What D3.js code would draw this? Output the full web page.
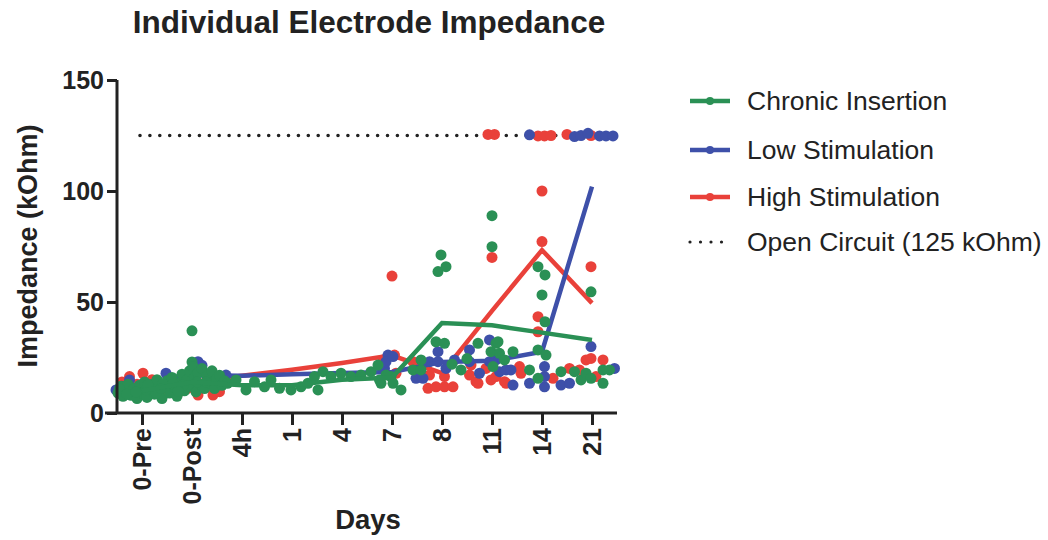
<!DOCTYPE html>
<html><head><meta charset="utf-8">
<script src="https://cdn.jsdelivr.net/npm/d3@7"></script>
<style>body{margin:0;background:#fff}svg{display:block}text{font-family:"Liberation Sans",Arial,sans-serif;fill:#222}</style>
</head><body><svg id="c" width="1048" height="540"></svg>
<script>
const categories = ["0-Pre","0-Post","4h","1","4","7","8","11","14","21"];
const yTicks = [0,50,100,150];
const openCircuit = 125;

// mean lines (one value per category)
const redLine   = [12,14,16.8,19.5,22.5,26,18,46,73.4,49.5];
const blueLine  = [11,17,16.8,17.4,18,18.5,23,23.5,27.6,102];
const greenLine = [10,14,12.5,12.5,15,16,40.5,39.5,36.2,32.9];

// individual electrodes [position (category index, jittered), kOhm]
const redPts = [[-0.25,16.4],[0.02,17.9],[-0.1,13],[0.3,12],[0.75,9.6],[1.12,8.1],[1.42,8.1],[1.55,9.6],[0.9,11],[1.3,11.5],[0.5,10],[0.2,15],[-0.4,14],
 [5.0,61.7],[4.82,23.9],[5.05,26.1],[5.08,17.9],[5.42,23.1],
 [5.75,17.1],[5.72,11.1],[5.88,11.8],[6.05,11.8],[6.22,11.8],[6.05,16.4],[6.55,17.1],[6.58,21.6],[6.68,14.1],[6.72,13.4],[6.88,20.1],[6.98,14.9],[7.0,70.1],[7.08,16.4],[7.25,14.1],[7.28,13.4],[7.55,20.9],[7.58,17.9],[7.92,43.4],[7.92,36.6],[8.0,100],[8.0,77.2],[8.22,15.6],[8.55,20.1],[8.75,19.4],[8.88,23.9],[8.98,24.6],[8.98,65.9],[9.22,23.9],[9.08,16.4],
 [6.92,125.5],[7.05,125.5],[7.92,124.8],[8.05,124.8],[8.18,125],[8.5,125.5],[8.98,125]];
const bluePts = [[-0.52,10.4],[-0.4,12],[-0.25,14.9],[0.1,13],[0.48,17.9],[0.7,15],[1.12,23.1],[1.2,21.5],[1.35,16],[1.68,17.1],[0.9,16.5],
 [4.92,26.1],[4.85,20.1],[4.88,23.1],[5.02,25.4],
 [5.48,15.6],[5.62,15.6],[5.75,23.1],[5.92,27.6],[5.92,23.1],[6.08,20.1],[6.25,23.9],[6.55,28.4],[6.55,23.1],[6.75,17.9],[6.95,32.9],[6.95,23.1],[7.08,23.9],[7.15,18.6],[7.28,19.4],[7.38,19.4],[7.42,12.6],[7.75,13.4],[8.05,20.9],[8.05,16.4],[8.05,11.8],[8.38,12.6],[8.55,13.4],[8.98,29.9],[9.45,20.1],
 [7.75,125.3],[8.65,124.5],[8.78,125],[8.92,126],[9.15,124.8],[9.28,124.8],[9.42,124.8]];
const greenPts = [[-0.48,9],[-0.42,12],[-0.38,7.5],[-0.32,10.5],[-0.28,13],[-0.22,8],[-0.16,11],[-0.1,6.5],[-0.05,12.5],[0.0,9],[0.05,14],[0.1,7],[0.15,11],[0.2,13],[0.25,8.5],[0.3,15],[0.35,10],[0.4,6.5],[0.45,12],[0.5,14.5],[0.55,9],[0.6,16],[0.65,11.5],[0.7,7.5],[0.75,13.5],[0.8,17.5],[0.85,10],[0.9,15],[0.95,19],[0.97,12],[1.0,37],[1.0,23],[1.02,21],[1.05,16],[1.08,9.5],[1.12,18],[1.16,13],[1.2,20],[1.25,11],[1.3,16.5],[1.35,13.5],[1.4,19],[1.45,11],[1.5,15.5],[1.55,17],[1.6,12.5],[1.65,14.5],
 [-0.45,11],[-0.3,8.5],[-0.12,9.5],[0.08,10.5],[0.28,9],[0.42,13],[0.62,13],[0.82,12.5],[1.1,14],[1.28,14],[0.12,12.5],[0.38,11],[0.72,10],
 [1.71,13.4],[1.88,14.9],[2.08,10.4],[2.25,14.1],[2.45,11.8],[2.58,14.9],[2.75,11.1],[2.98,10.4],[3.18,11.8],[3.32,13.4],[3.52,10.4],[3.45,16.4],[3.62,18.6],[3.78,16.4],[3.98,17.9],[4.18,16.4],[4.38,17.1],[4.58,18.6],[4.72,21.6],[4.78,13.4],[4.98,16.4],
 [4.75,14.9],[4.88,17.1],[5.02,13.4],[5.18,10.4],[5.42,19.4],[5.58,19.4],[5.58,23.9],[5.88,32.1],[6.05,31.4],[5.98,71.2],[5.92,63.7],[6.08,65.9],[6.2,22],[6.38,19.4],[6.5,24.5],[6.72,31.4],[6.98,27.6],[7.02,20.9],[7.08,31.4],[7.0,88.9],[7.0,74.9],[7.12,32.1],[7.15,26.9],[7.42,27.6],[7.25,23.9],[7.75,19.4],[7.92,28.4],[7.92,15.6],[7.92,65.9],[8.06,62.2],[8.0,53.2],[8.06,41.1],[8.08,26.1],[8.38,18.6],[8.65,18.6],[8.78,14.9],[8.88,17.9],[8.98,15.6],[8.98,54.6],[9.22,19.4],[9.35,19.4],[9.22,13.4]];

const colors = {"Chronic Insertion":"#2a9055","Low Stimulation":"#3e50a9","High Stimulation":"#e9413a"};
const svg = d3.select("#c");
const x = d3.scaleLinear().domain([-0.5,9.5]).range([117,617]);
const y = d3.scaleLinear().domain([0,150]).range([413,80]);

const groups = [
  {name:"High Stimulation", pts:redPts, line:redLine},
  {name:"Low Stimulation", pts:bluePts, line:blueLine},
  {name:"Chronic Insertion", pts:greenPts, line:greenLine}
];

// open circuit dotted line
svg.append("line").attr("x1",x(0)-2).attr("x2",x(9.5)).attr("y1",y(openCircuit)).attr("y2",y(openCircuit))
  .attr("stroke","#222").attr("stroke-width",3.6).attr("stroke-linecap","round").attr("stroke-dasharray","0,9.9");

const lineGen = d3.line().x((d,i)=>x(i)).y(d=>y(d));
groups.forEach(g=>{
  const c = colors[g.name];
  svg.append("g").selectAll("circle").data(g.pts).join("circle")
    .attr("cx",d=>x(d[0])).attr("cy",d=>y(d[1])).attr("r",5.5).attr("fill",c);
  svg.append("path").datum(g.line).attr("d",lineGen).attr("fill","none").attr("stroke",c).attr("stroke-width",4.5);
});

// axes
const yAxis = svg.append("g").attr("transform","translate(117,0)")
  .call(d3.axisLeft(y).tickValues(yTicks).tickSize(10).tickPadding(3).tickFormat(d3.format("d")));
const xAxis = svg.append("g").attr("transform","translate(0,413)")
  .call(d3.axisBottom(x).tickValues(d3.range(categories.length)).tickSize(12).tickFormat(i=>categories[i]));
[yAxis,xAxis].forEach(a=>{
  a.select(".domain").attr("stroke","#222").attr("stroke-width",3);
  a.selectAll(".tick line").attr("stroke","#222").attr("stroke-width",3);
});
xAxis.select(".domain").attr("d","M105,0H617");
yAxis.select(".domain").attr("d","M0,80V413");
yAxis.selectAll(".tick text").attr("font-size",25).attr("font-weight","bold").attr("fill","#222");
xAxis.selectAll(".tick text").attr("font-size",25).attr("font-weight","bold").attr("fill","#222")
  .attr("transform","rotate(-90)").attr("text-anchor","end").attr("x",-15).attr("y",0).attr("dy","0.35em");

// titles
svg.append("text").attr("x",369).attr("y",33).attr("text-anchor","middle").attr("font-size",31.5).attr("font-weight","bold").text("Individual Electrode Impedance");
svg.append("text").attr("transform","translate(37,246) rotate(-90)").attr("text-anchor","middle").attr("font-size",27).attr("font-weight","bold").text("Impedance (kOhm)");
svg.append("text").attr("x",368).attr("y",529).attr("text-anchor","middle").attr("font-size",27.5).attr("font-weight","bold").text("Days");

// legend
const legendItems = ["Chronic Insertion","Low Stimulation","High Stimulation"];
const legendY = [101,150,197];
legendItems.forEach((n,i)=>{
  const g = svg.append("g").attr("transform",`translate(0,${legendY[i]})`);
  g.append("line").attr("x1",690).attr("x2",730).attr("stroke",colors[n]).attr("stroke-width",4.5);
  g.append("circle").attr("cx",710).attr("r",4).attr("fill",colors[n]);
  g.append("text").attr("x",747).attr("dy","0.35em").attr("font-size",26.5).text(n);
});
const og = svg.append("g").attr("transform","translate(0,242)");
og.append("line").attr("x1",690).attr("x2",725).attr("stroke","#222").attr("stroke-width",3.2).attr("stroke-linecap","round").attr("stroke-dasharray","0,10.5");
og.append("text").attr("x",747).attr("dy","0.35em").attr("font-size",26.5).text("Open Circuit (125 kOhm)");
</script></body></html>
